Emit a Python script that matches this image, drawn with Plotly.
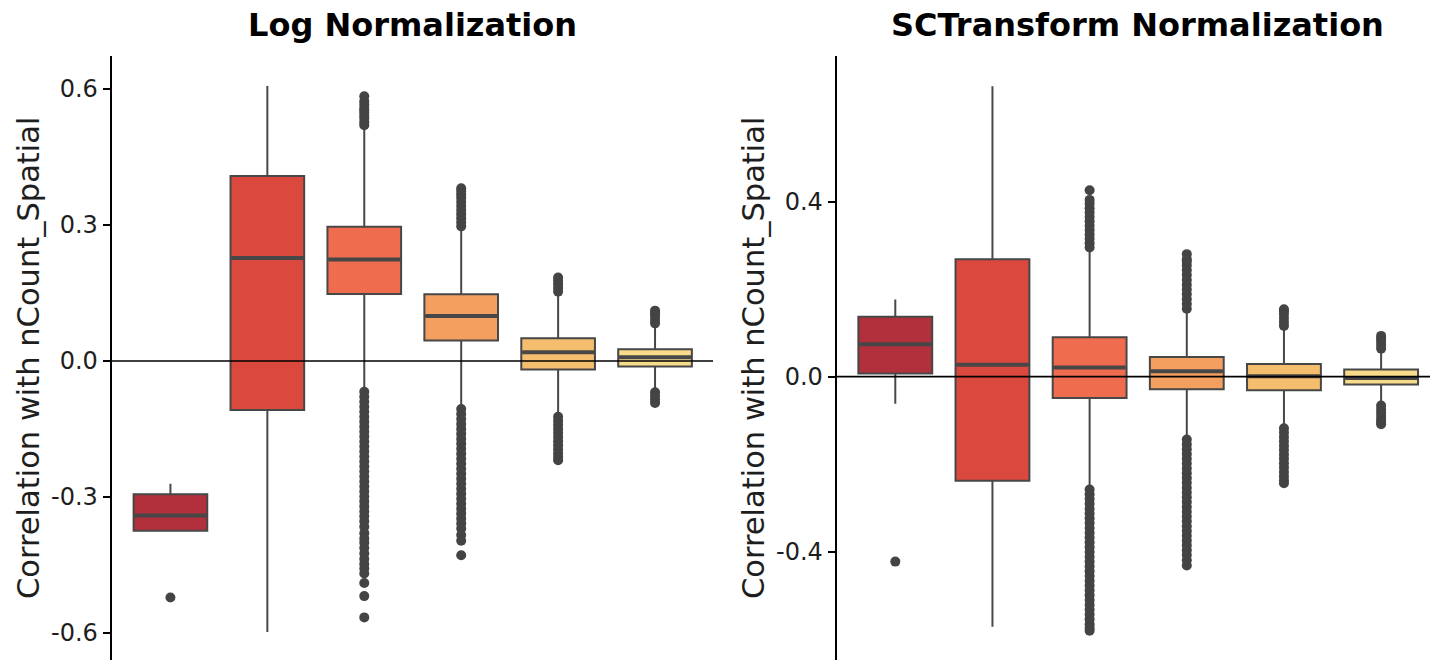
import plotly.graph_objects as go

# ---------------- data ----------------
groups = [0, 1, 2, 3, 4, 5]
colors = ["#B2303C", "#DA483E", "#F06C4E", "#F29F5F", "#F5BD6E", "#F8DC8C"]

# Log Normalization
log_q1 = [-0.375, -0.108, 0.148, 0.045, -0.019, -0.012]
log_median = [-0.341, 0.227, 0.224, 0.099, 0.019, 0.008]
log_q3 = [-0.294, 0.408, 0.296, 0.147, 0.050, 0.026]
log_lower = [-0.377, -0.598, -0.063, -0.101, -0.118, -0.063]
log_upper = [-0.271, 0.607, 0.515, 0.292, 0.148, 0.077]
log_outliers = [
    [-0.522],
    [],
    [0.520, 0.527, 0.535, 0.541, 0.548, 0.553, 0.558, 0.566, 0.573, 0.584,
     -0.068, -0.079, -0.090, -0.101, -0.112, -0.123, -0.134, -0.145, -0.156, -0.167,
     -0.178, -0.189, -0.200, -0.211, -0.222, -0.233, -0.244, -0.255, -0.266, -0.277,
     -0.288, -0.299, -0.310, -0.321, -0.332, -0.343, -0.354, -0.366, -0.380, -0.392,
     -0.401, -0.413, -0.425, -0.437, -0.448, -0.458, -0.469, -0.490, -0.519, -0.566],
    [0.297, 0.306, 0.315, 0.324, 0.333, 0.342, 0.351, 0.360, 0.368, 0.375, 0.381,
     -0.106, -0.117, -0.128, -0.139, -0.150, -0.161, -0.172, -0.183, -0.194, -0.205,
     -0.216, -0.227, -0.238, -0.249, -0.260, -0.271, -0.282, -0.293, -0.304, -0.315,
     -0.326, -0.337, -0.348, -0.359, -0.370, -0.384, -0.397, -0.429],
    [0.153, 0.161, 0.169, 0.177, 0.184,
     -0.123, -0.132, -0.141, -0.150, -0.159, -0.168, -0.177, -0.186, -0.195, -0.204,
     -0.212, -0.219],
    [0.083, 0.091, 0.099, 0.105, 0.111,
     -0.069, -0.077, -0.085, -0.093],
]

# SCTransform Normalization
sct_q1 = [0.007, -0.238, -0.049, -0.029, -0.031, -0.018]
sct_median = [0.074, 0.027, 0.021, 0.012, 0.001, -0.003]
sct_q3 = [0.137, 0.268, 0.090, 0.045, 0.029, 0.016]
sct_lower = [-0.062, -0.572, -0.253, -0.139, -0.113, -0.060]
sct_upper = [0.176, 0.664, 0.290, 0.150, 0.110, 0.058]
sct_outliers = [
    [-0.423],
    [],
    [0.295, 0.305, 0.315, 0.325, 0.335, 0.345, 0.355, 0.365, 0.375, 0.385, 0.395, 0.404, 0.426,
     -0.258, -0.269, -0.280, -0.291, -0.302, -0.313, -0.324, -0.335, -0.346, -0.357,
     -0.368, -0.379, -0.390, -0.401, -0.412, -0.423, -0.434, -0.445, -0.456, -0.467,
     -0.478, -0.489, -0.500, -0.511, -0.522, -0.533, -0.544, -0.555, -0.566, -0.575, -0.581],
    [0.155, 0.166, 0.177, 0.188, 0.199, 0.210, 0.221, 0.232, 0.243, 0.254, 0.263, 0.268, 0.280,
     -0.144, -0.155, -0.166, -0.177, -0.188, -0.199, -0.210, -0.221, -0.232, -0.243,
     -0.254, -0.265, -0.276, -0.287, -0.298, -0.309, -0.320, -0.331, -0.342, -0.353,
     -0.364, -0.375, -0.386, -0.397, -0.408, -0.420, -0.432],
    [0.116, 0.125, 0.134, 0.143, 0.150, 0.154,
     -0.118, -0.128, -0.138, -0.148, -0.158, -0.168, -0.178, -0.188, -0.198, -0.208,
     -0.218, -0.228, -0.237, -0.244],
    [0.064, 0.072, 0.080, 0.087, 0.093,
     -0.066, -0.074, -0.082, -0.090, -0.098, -0.104, -0.109],
]

log_ticks = [-0.6, -0.3, 0.0, 0.3, 0.6]
log_ticktext = ["-0.6", "-0.3", "0.0", "0.3", "0.6"]
sct_ticks = [-0.4, 0.0, 0.4]
sct_ticktext = ["-0.4", "0.0", "0.4"]

titles = ["Log Normalization", "SCTransform Normalization"]
ytitle = "Correlation with nCount_Spatial"

# ---------------- styling ----------------
W, H = 1430, 660
FONT = "DejaVu Sans"
EDGE = "#474747"
BOXW = 0.76

fig = go.Figure()


def add_panel(q1, med, q3, lo, up, outl, xa, ya):
    for i, g in enumerate(groups):
        fig.add_trace(go.Box(
            x=[g], q1=[q1[i]], median=[med[i]], q3=[q3[i]],
            lowerfence=[lo[i]], upperfence=[up[i]],
            width=BOXW, fillcolor=colors[i],
            line=dict(color=EDGE, width=2), whiskerwidth=0,
            boxpoints=False, showlegend=False, hoverinfo="skip",
            xaxis=xa, yaxis=ya,
        ))
    # thick median segments
    mx, my = [], []
    for i, g in enumerate(groups):
        mx += [g - BOXW / 2 + 0.01, g + BOXW / 2 - 0.01, None]
        my += [med[i], med[i], None]
    fig.add_trace(go.Scatter(x=mx, y=my, mode="lines",
                             line=dict(color=EDGE, width=4),
                             showlegend=False, hoverinfo="skip",
                             xaxis=xa, yaxis=ya))
    # outliers
    ox, oy = [], []
    for i, g in enumerate(groups):
        ox += [g] * len(outl[i])
        oy += outl[i]
    fig.add_trace(go.Scatter(x=ox, y=oy, mode="markers",
                             marker=dict(color="#444444", size=10,
                                         line=dict(width=0)),
                             showlegend=False, hoverinfo="skip",
                             xaxis=xa, yaxis=ya))


add_panel(log_q1, log_median, log_q3, log_lower, log_upper, log_outliers, "x", "y")
add_panel(sct_q1, sct_median, sct_q3, sct_lower, sct_upper, sct_outliers, "x2", "y2")

yax_common = dict(showline=True, linecolor="black", linewidth=1.6,
                  ticks="outside", ticklen=7, tickwidth=1.6, tickcolor="black",
                  tickfont=dict(family=FONT, size=24, color="#1e1e1e"),
                  showgrid=False, zeroline=False, domain=[0, 1])
xax_common = dict(visible=False, showgrid=False, zeroline=False)

fig.update_layout(
    width=W, height=H,
    margin=dict(l=0, r=0, t=56, b=0),
    paper_bgcolor="white", plot_bgcolor="white",
    showlegend=False,
    xaxis=dict(domain=[111.5 / W, 713 / W], range=[-0.608, 5.598], anchor="y", **xax_common),
    xaxis2=dict(domain=[836.5 / W, 1.0], range=[-0.605, 5.503], anchor="y2", **xax_common),
    yaxis=dict(range=[-0.660, 0.673], tickvals=log_ticks, ticktext=log_ticktext,
               anchor="x", **yax_common),
    yaxis2=dict(range=[-0.648, 0.733], tickvals=sct_ticks, ticktext=sct_ticktext,
                anchor="x2", **yax_common),
)

# zero reference lines above boxes
fig.add_shape(type="line", xref="x domain", yref="y", x0=0, x1=1, y0=0, y1=0,
              line=dict(color="black", width=1.6), layer="above")
fig.add_shape(type="line", xref="x2 domain", yref="y2", x0=0, x1=1, y0=0, y1=0,
              line=dict(color="black", width=1.6), layer="above")

plot_h = H - 56
# panel titles
for txt, cx in zip(titles, [412, 1137]):
    fig.add_annotation(text="<b>" + txt + "</b>", xref="paper", yref="paper",
                       x=cx / W, y=(H - 25) / plot_h, xanchor="center", yanchor="middle",
                       showarrow=False, font=dict(family=FONT, size=32, color="black"))
# y-axis titles
for cx in [28, 753]:
    fig.add_annotation(text=ytitle, xref="paper", yref="paper",
                       x=cx / W, y=(H - 358) / plot_h, xanchor="center", yanchor="middle",
                       textangle=-90, showarrow=False,
                       font=dict(family=FONT, size=30.5, color="#1e1e1e"))

fig.write_html("out.html")
